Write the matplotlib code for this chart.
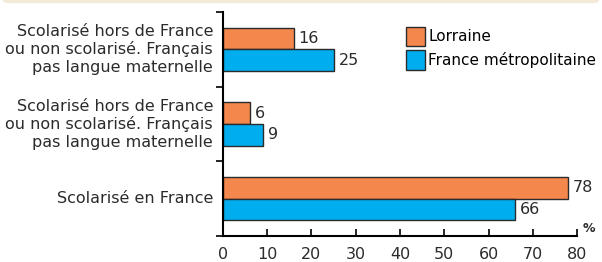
import numpy as np
import matplotlib.pyplot as plt
from matplotlib.patches import FancyBboxPatch

# donnees
categories = ["Scolarisé en France",
              "Scolarisé hors de France\nou non scolarisé. Français\npas langue maternelle",
              "Scolarisé hors de France\nou non scolarisé. Français\npas langue maternelle"]
lorraine = [78, 6, 16]
france = [66, 9, 25]
series = ["Lorraine", "France métropolitaine"]
xticks = [0, 10, 20, 30, 40, 50, 60, 70, 80]

orange = "#F4874B"
bleu = "#00ADEE"
gris = "#2b2b2b"

fig = plt.figure(figsize=(6.02, 2.62), dpi=100)

# bandeau beige en haut
fig.patches.append(FancyBboxPatch((0.005, 0.988), 0.99, 0.05, boxstyle="round,pad=0,rounding_size=0.01",
                                  transform=fig.transFigure, facecolor="#F3EBD8", edgecolor="none"))

ax = fig.add_axes([0.3704, 0.0992, 0.5881, 0.8548])

y = np.arange(len(categories))
h = 0.29
b1 = ax.barh(y + h / 2, lorraine, height=h, color=orange, edgecolor=gris, linewidth=1, label=series[0])
b2 = ax.barh(y - h / 2, france, height=h, color=bleu, edgecolor=gris, linewidth=1, label=series[1])

for rects, vals in [(b1, lorraine), (b2, france)]:
    for r, v in zip(rects, vals):
        ax.annotate(str(v), (v, r.get_y() + r.get_height() / 2), xytext=(3.5, 0),
                    textcoords="offset points", va="center", ha="left", fontsize=11.5, color=gris)

ax.set_xlim(0, 80)
ax.set_ylim(-0.5, 2.5)
ax.set_xticks(xticks)
ax.set_xticklabels([str(t) for t in xticks], fontsize=11.5, color=gris)
ax.tick_params(axis="x", direction="in", length=5, width=1.2, pad=8, color="black")

# ticks y entre les groupes, labels au centre
ax.set_yticks([-0.5, 0.5, 1.5, 2.5])
ax.set_yticklabels([])
ax.tick_params(axis="y", direction="out", length=5, width=1.2, color="black")
for yi, c in zip(y, categories):
    ax.text(-0.028, yi, c, transform=ax.get_yaxis_transform(), ha="right", va="center",
            fontsize=11.5, color=gris, linespacing=1.2)

for s in ["top", "right"]:
    ax.spines[s].set_visible(False)
ax.spines["left"].set_linewidth(1.5)
ax.spines["bottom"].set_linewidth(1.5)

ax.text(1.015, 0.02, "%", transform=ax.transAxes, fontsize=9, fontweight="bold", color=gris)

ax.legend(handles=[b1, b2], loc="upper left", bbox_to_anchor=(0.517, 0.935), frameon=False,
          fontsize=11, handlelength=1.25, handleheight=1.6, handletextpad=0.2, labelspacing=0.25,
          borderpad=0, borderaxespad=0)

fig.savefig("out.png", dpi=100)
